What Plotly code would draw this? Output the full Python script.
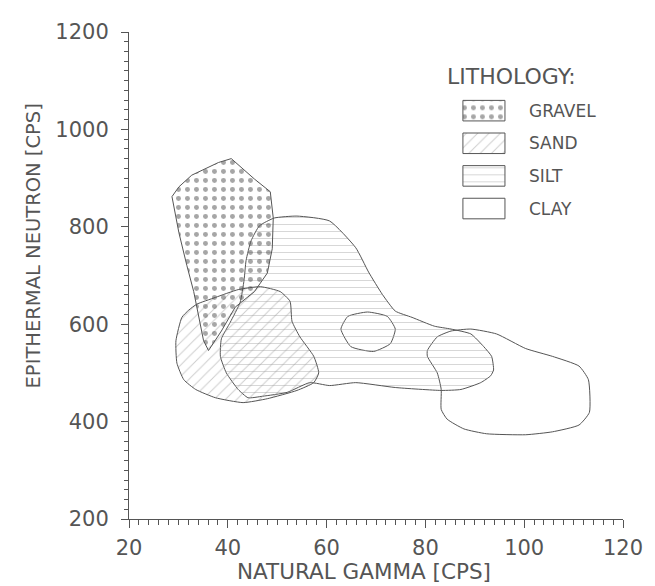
import plotly.graph_objects as go

# ---------------- data ----------------
lithology = ["GRAVEL", "SAND", "SILT", "CLAY"]
x_ticks = [20, 40, 60, 80, 100, 120]
y_ticks = [200, 400, 600, 800, 1000, 1200]

gravel_x = [28.7, 30.1, 32.7, 38.1, 40.7, 42.7, 45.4, 48.6, 49.2, 49.0, 48.0, 45.4,
            41.5, 38.7, 36.1, 35.1, 34.1, 33.1, 31.7, 30.1, 28.7]
gravel_y = [862, 882, 906, 932, 940, 922, 898, 872, 818, 755, 705, 667,
            635, 586, 546, 566, 620, 667, 721, 788, 862]

sand_x = [29.5, 30.7, 32.1, 33.7, 37.5, 42.1, 46.6, 50.6, 52.6, 53.0, 54.6, 57.4,
          58.4, 57.4, 54.0, 48.0, 43.1, 37.5, 33.5, 31.1, 29.7, 29.5]
sand_y = [566, 614, 629, 641, 655, 671, 677, 667, 647, 606, 574, 534,
          500, 480, 464, 447, 439, 449, 466, 486, 520, 566]

silt_x = [49.4, 54.0, 60.6, 65.9, 68.5, 71.3, 73.9, 77.3, 81.8, 85.2, 89.2, 91.8,
          93.4, 93.8, 93.2, 91.2, 87.2, 83.2, 73.9, 65.9, 60.6, 56.6, 52.0, 47.0,
          44.1, 42.1, 39.7, 38.5, 38.7, 40.5, 42.5, 43.3, 43.7, 44.7, 46.4, 49.4]
silt_y = [818, 822, 812, 757, 707, 661, 627, 614, 596, 590, 580, 554,
          534, 506, 494, 480, 466, 464, 470, 480, 474, 480, 460, 452,
          449, 466, 500, 534, 570, 604, 645, 691, 731, 771, 802, 818]

clay_x = [85.2, 89.2, 94.4, 100.3, 105.7, 111.1, 113.0, 113.2, 111.1, 105.7, 100.3,
          92.4, 87.8, 84.4, 83.2, 83.2, 82.4, 80.4, 80.4, 82.4, 85.2]
clay_y = [586, 590, 580, 550, 534, 514, 486, 419, 393, 379, 373,
          375, 385, 405, 425, 466, 500, 534, 546, 574, 586]

clay_ring_x = [62.9, 64.3, 68.3, 72.3, 73.9, 72.9, 69.5, 64.9, 62.9]
clay_ring_y = [590, 616, 625, 616, 590, 560, 544, 554, 590]

# ---------------- styling ----------------
FONT = "DejaVu Sans"
TXT = "#555555"
EDGE = "#555555"
patterns = {
    "GRAVEL": dict(shape=".", size=9, solidity=0.24, fgcolor="#4d4d4d"),
    "SAND": dict(shape="/", size=8, solidity=0.12, fgcolor="#9a9a9a"),
    "SILT": dict(shape="-", size=7, solidity=0.12, fgcolor="#a0a0a0"),
    "CLAY": None,
}
smooth = {"GRAVEL": "linear", "SAND": "spline", "SILT": "spline", "CLAY": "spline"}

fig = go.Figure()

poly = {
    "GRAVEL": (gravel_x, gravel_y),
    "SAND": (sand_x, sand_y),
    "SILT": (silt_x, silt_y),
    "CLAY": (clay_x + [None] + clay_ring_x, clay_y + [None] + clay_ring_y),
}

for name in ["CLAY", "SILT", "SAND", "GRAVEL"]:
    xs, ys = poly[name]
    pat = patterns[name]
    kw = {}
    if pat is not None:
        kw["fill"] = "toself"
        kw["fillcolor"] = "rgba(0,0,0,0)"
        kw["fillpattern"] = dict(bgcolor="rgba(0,0,0,0)", fillmode="overlay", **pat)
    fig.add_trace(go.Scatter(
        x=xs, y=ys, mode="lines", name=name, showlegend=False,
        line=dict(color=EDGE, width=1, shape=smooth[name], smoothing=0.5),
        connectgaps=False, hoverinfo="skip", **kw))

# ---------------- manual legend (pattern swatches) on a helper subplot ----------------
n = len(lithology)
for i, name in enumerate(lithology):
    top = n - i - 0.5 + 0.315
    bot = n - i - 0.5 - 0.315
    pat = patterns[name]
    kw = dict(fill="toself", fillcolor="rgba(0,0,0,0)")
    if pat is not None:
        kw["fillpattern"] = dict(bgcolor="rgba(0,0,0,0)", fillmode="overlay", **pat)
    fig.add_trace(go.Scatter(
        x=[0, 1, 1, 0, 0], y=[bot, bot, top, top, bot], xaxis="x2", yaxis="y2",
        mode="lines", line=dict(color=EDGE, width=1), showlegend=False,
        hoverinfo="skip", **kw))
    fig.add_annotation(x=0.806, xref="paper", y=n - i - 0.5, yref="y2",
                       text=name, showarrow=False, xanchor="left", yanchor="middle",
                       font=dict(family=FONT, size=17, color=TXT))

fig.add_annotation(x=0.775, y=0.909, xref="paper", yref="paper", text="LITHOLOGY:",
                   showarrow=False, xanchor="center", yanchor="middle",
                   font=dict(family=FONT, size=22, color=TXT))

# axis titles
fig.add_annotation(x=0.475, y=-0.1087, xref="paper", yref="paper",
                   text="NATURAL GAMMA [CPS]", showarrow=False,
                   xanchor="center", yanchor="middle",
                   font=dict(family=FONT, size=21.5, color=TXT))
fig.add_annotation(x=-0.193, y=0.561, xref="paper", yref="paper",
                   text="EPITHERMAL NEUTRON [CPS]", showarrow=False, textangle=-90,
                   xanchor="center", yanchor="middle",
                   font=dict(family=FONT, size=19.5, color=TXT))

# the page body adds an 8 px margin, so the figure is 8 px smaller than the window
fig.update_layout(
    width=647, height=578,
    margin=dict(l=121, r=23, t=14, b=67),
    paper_bgcolor="white", plot_bgcolor="white",
    showlegend=False,
    xaxis=dict(range=[20, 120], tickvals=x_ticks, ticks="outside", ticklen=8,
               tickwidth=1, tickcolor=EDGE, showline=True, linecolor=EDGE, linewidth=1,
               showgrid=False, zeroline=False, ticklabelstandoff=2,
               tickfont=dict(family=FONT, size=21, color=TXT),
               minor=dict(dtick=2, ticks="outside", ticklen=5, tickcolor=EDGE,
                          showgrid=False)),
    yaxis=dict(range=[200, 1200], tickvals=y_ticks, ticks="outside", ticklen=7,
               tickwidth=1, tickcolor=EDGE, showline=True, linecolor=EDGE, linewidth=1,
               showgrid=False, zeroline=False, ticklabelstandoff=8,
               tickfont=dict(family=FONT, size=21, color=TXT),
               minor=dict(dtick=20, ticks="outside", ticklen=4, tickcolor=EDGE,
                          showgrid=False)),
    xaxis2=dict(domain=[0.670, 0.767], range=[-0.07, 1.07], visible=False,
                anchor="y2", fixedrange=True),
    yaxis2=dict(domain=[0.604, 0.872], range=[0, 4], visible=False,
                anchor="x2", fixedrange=True),
)

fig.write_html("out.html")
